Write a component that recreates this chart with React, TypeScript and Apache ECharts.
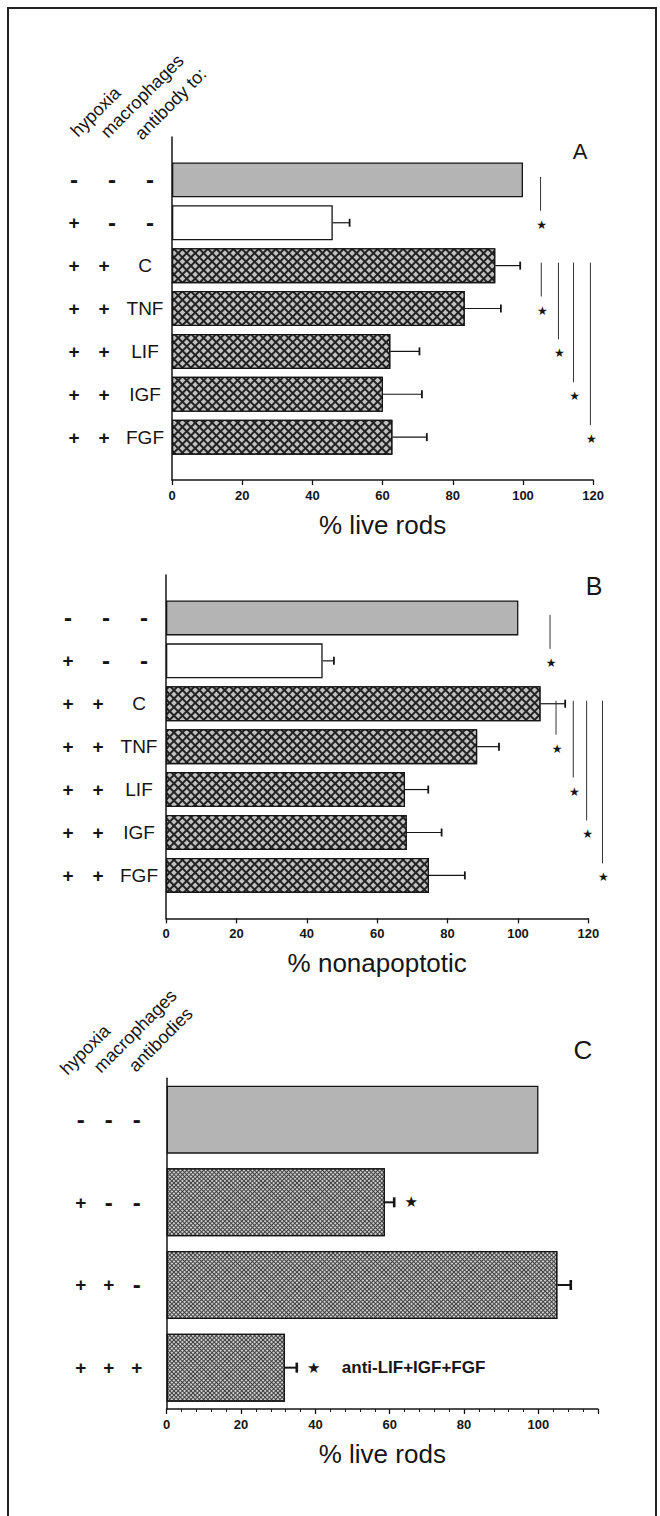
import React, { useEffect, useRef } from "react";
import * as echarts from "echarts";

const FONT = "'Liberation Sans', Arial, Helvetica, sans-serif";

// ---------------- data ----------------
// Panels A and B share the treatment rows
const hypoxiaAB = ["-", "+", "+", "+", "+", "+", "+"];
const macrophagesAB = ["-", "-", "+", "+", "+", "+", "+"];
const antibodyAB = ["-", "-", "C", "TNF", "LIF", "IGF", "FGF"];
const headerA = ["hypoxia", "macrophages", "antibody to:"];

// Panel A: % live rods (mean, mean + error)
const liveRodsA = [100, 45.8, 92.1, 83.4, 62.2, 60.1, 62.8];
const liveRodsErrA = [0, 50.6, 99.2, 93.7, 70.5, 71.2, 72.6];
// significance: [x value, from row, to row]
const sigA = [
  [105, 0, 1],
  [105.2, 2, 3],
  [110.1, 2, 4],
  [114.4, 2, 5],
  [119.2, 2, 6],
];

// Panel B: % nonapoptotic
const nonapoptoticB = [100.1, 44.5, 106.4, 88.4, 67.9, 68.4, 74.7];
const nonapoptoticErrB = [0, 47.7, 113.4, 94.6, 74.5, 78.3, 84.9];
const sigB = [
  [109.1, 0, 1],
  [110.8, 2, 3],
  [115.7, 2, 4],
  [119.5, 2, 5],
  [124, 2, 6],
];

// Panel C: % live rods
const hypoxiaC = ["-", "+", "+", "+"];
const macrophagesC = ["-", "-", "+", "+"];
const antibodiesC = ["-", "-", "-", "+"];
const headerC = ["hypoxia", "macrophages", "antibodies"];
const liveRodsC = [100, 58.7, 105.1, 31.8];
const liveRodsErrC = [0, 61.2, 108.7, 35];
const starC = [false, true, false, true];
const noteC = ["", "", "", "anti-LIF+IGF+FGF"];

const xMaxAB = 120;
const xMaxC = 116;
const xStep = 20;
const panelLetters = ["A", "B", "C"];

// ---------------- styles ----------------
const INK = "#151515";
const controlStyle = { color: "#b4b4b4", borderColor: INK, borderWidth: 1.3 };
const whiteStyle = { color: "#ffffff", borderColor: INK, borderWidth: 1.3 };
const hatchStyle = {
  color: "#222222",
  borderColor: INK,
  borderWidth: 1.3,
  decal: {
    symbol: "rect",
    symbolSize: 1,
    color: "#c0c0c0",
    dashArrayX: [3.6, 1.2],
    dashArrayY: [3.6, 1.2],
    rotation: Math.PI / 4,
  },
};
const dotStyle = {
  color: "#404040",
  borderColor: INK,
  borderWidth: 1.3,
  decal: {
    symbol: "rect",
    symbolSize: 1,
    color: "#cfcfcf",
    dashArrayX: [2, 1],
    dashArrayY: [2, 1],
    rotation: Math.PI / 4,
  },
};

const catsAB = ["padTop", ...antibodyAB.map((_, i) => "r" + i), "padBottom"];
const catsC = liveRodsC.map((_, i) => "c" + i);

function barItemsAB(values: number[]) {
  return [
    "-",
    ...values.map((v, i) => ({
      value: v,
      itemStyle: i === 0 ? controlStyle : i === 1 ? whiteStyle : hatchStyle,
    })),
    "-",
  ];
}

function barItemsC(values: number[]) {
  return values.map((v, i) => ({
    value: v,
    itemStyle: i === 0 ? controlStyle : dotStyle,
  }));
}

const labelBold = { fontSize: 19, fontWeight: "bold", fontFamily: FONT, color: INK, align: "center" };
const dashBold = { ...labelBold, fontSize: 24 };
const richAB = {
  d: { ...labelBold, width: 38 },
  dm: { ...dashBold, width: 38 },
  p1: { ...labelBold, width: 26 },
  p2: { ...labelBold, width: 34 },
  w: { fontSize: 19, fontFamily: FONT, color: INK, align: "center", width: 48 },
};
const richC = { c: { ...labelBold, width: 28 }, cm: { ...dashBold, width: 28 } };

const tok = (style: string, ch: string) => (ch === "-" ? `{${style}m|-}` : `{${style}|${ch}}`);

function labelAB(i: number) {
  const h = hypoxiaAB[i];
  const m = macrophagesAB[i];
  const a = antibodyAB[i];
  if (m === "-") return tok("d", h) + tok("d", m) + tok("d", a);
  return `{p1|${h}}{p2|${m}}{w|${a}}`;
}
function labelC(i: number) {
  return tok("c", hypoxiaC[i]) + tok("c", macrophagesC[i]) + tok("c", antibodiesC[i]);
}

const errRender = (capH: number, lw: number) => (params: any, api: any) => {
  const cat = api.value(2);
  const a = api.coord([api.value(0), cat]);
  const b = api.coord([api.value(1), cat]);
  return {
    type: "group",
    children: [
      { type: "line", shape: { x1: a[0], y1: a[1], x2: b[0], y2: b[1] }, style: { stroke: INK, lineWidth: lw } },
      {
        type: "line",
        shape: { x1: b[0], y1: b[1] - capH / 2, x2: b[0], y2: b[1] + capH / 2 },
        style: { stroke: INK, lineWidth: lw + 0.6 },
      },
    ],
  };
};

const starText = (x: number, y: number, size: number) => ({
  type: "text",
  x,
  y,
  style: {
    text: "★",
    fill: INK,
    font: `${size}px 'DejaVu Sans'`,
    align: "center",
    verticalAlign: "middle",
    textAlign: "center",
    textVerticalAlign: "middle",
  },
});

const sigRender = (params: any, api: any) => {
  const x = api.value(0);
  const p1 = api.coord([x, api.value(1)]);
  const p2 = api.coord([x, api.value(2)]);
  return {
    type: "group",
    children: [
      {
        type: "line",
        shape: { x1: p1[0], y1: p1[1] - 3, x2: p2[0], y2: p2[1] - 12 },
        style: { stroke: "#333", lineWidth: 1 },
      },
      starText(p2[0] + 1, p2[1] + 2, 12),
    ],
  };
};

const starNoteRender = (params: any, api: any) => {
  const cat = api.value(1);
  const p = api.coord([api.value(0), cat]);
  const note = noteC[cat];
  const children: any[] = [starText(p[0] + 17, p[1], 15)];
  if (note) {
    children.push({
      type: "text",
      x: p[0] + 45,
      y: p[1],
      style: {
        text: note,
        fill: INK,
        font: `bold 17px ${FONT}`,
        align: "left",
        verticalAlign: "middle",
        textAlign: "left",
        textVerticalAlign: "middle",
      },
    });
  }
  return { type: "group", children };
};

function valueAxis(gridIndex: number, max: number, name: string, minor: boolean) {
  return {
    type: "value",
    gridIndex,
    min: 0,
    max,
    interval: xStep,
    name,
    nameLocation: "middle",
    nameGap: 32,
    nameTextStyle: { fontSize: 26, fontFamily: FONT, color: INK },
    axisLine: { show: true, lineStyle: { color: INK, width: 1.5 } },
    axisTick: { show: true, length: 5, lineStyle: { color: INK, width: 1.3 } },
    minorTick: { show: minor, splitNumber: 5, length: 3, lineStyle: { color: INK, width: 1 } },
    splitLine: { show: false },
    axisLabel: {
      margin: 9,
      fontSize: 13,
      fontWeight: "bold",
      fontFamily: FONT,
      color: INK,
      formatter: (v: number) => (v % xStep === 0 ? String(v) : ""),
    },
  };
}

function headerTexts(names: string[], anchors: number[][]) {
  return names.map((t, i) => ({
    type: "text",
    x: anchors[i][0],
    y: anchors[i][1],
    rotation: Math.PI / 4,
    style: {
      text: t,
      font: `18px ${FONT}`,
      fill: INK,
      align: "left",
      verticalAlign: "bottom",
      textAlign: "left",
      textVerticalAlign: "bottom",
    },
  }));
}

function letter(t: string, x: number, y: number, size: number) {
  return {
    type: "text",
    x,
    y,
    style: {
      text: t,
      font: `${size}px ${FONT}`,
      fill: INK,
      align: "center",
      verticalAlign: "middle",
      textAlign: "center",
      textVerticalAlign: "middle",
    },
  };
}

export default function App() {
  const ref = useRef<HTMLDivElement>(null);

  useEffect(() => {
    if (!ref.current) return;
    const chart = echarts.init(ref.current, undefined, { renderer: "svg" });

    // rows of panels A/B sit at category index row + 1 (padding categories at both ends)
    const errDataA = liveRodsErrA
      .map((e, i) => (e > 0 ? [liveRodsA[i], e, i + 1] : null))
      .filter(Boolean);
    const errDataB = nonapoptoticErrB
      .map((e, i) => (e > 0 ? [nonapoptoticB[i], e, i + 1] : null))
      .filter(Boolean);
    const sigDataA = sigA.map(([x, f, t]) => [x, f + 1, t + 1]);
    const sigDataB = sigB.map(([x, f, t]) => [x, f + 1, t + 1]);
    const errDataC = liveRodsErrC
      .map((e, i) => (e > 0 ? [liveRodsC[i], e, i] : null))
      .filter(Boolean);
    const starDataC = starC.map((s, i) => (s ? [liveRodsErrC[i], i] : null)).filter(Boolean);

    const catAxisAB = (gridIndex: number) => ({
      type: "category",
      gridIndex,
      data: catsAB,
      inverse: true,
      boundaryGap: false,
      axisLine: { show: true, lineStyle: { color: INK, width: 1.5 } },
      axisTick: { show: false },
      splitLine: { show: false },
      axisLabel: {
        interval: 0,
        margin: 3,
        rich: richAB,
        formatter: (_v: string, idx: number) => (idx === 0 || idx === catsAB.length - 1 ? "" : labelAB(idx - 1)),
      },
    });

    const option: any = {
      animation: false,
      backgroundColor: "#ffffff",
      textStyle: { fontFamily: FONT },
      grid: [
        { left: 172, top: 137, width: 421.2, height: 343 },
        { left: 166, top: 575, width: 422.4, height: 343.3 },
        { left: 166.7, top: 1078.3, width: 431.2, height: 330.7 },
      ],
      xAxis: [
        valueAxis(0, xMaxAB, "% live rods", false),
        valueAxis(1, xMaxAB, "% nonapoptotic", false),
        valueAxis(2, xMaxC, "% live rods", true),
      ],
      yAxis: [
        catAxisAB(0),
        catAxisAB(1),
        {
          type: "category",
          gridIndex: 2,
          data: catsC,
          inverse: true,
          axisLine: { show: true, lineStyle: { color: INK, width: 1.5 } },
          axisTick: { show: false },
          splitLine: { show: false },
          axisLabel: {
            interval: 0,
            margin: 16,
            rich: richC,
            formatter: (_v: string, idx: number) => labelC(idx),
          },
        },
      ],
      series: [
        { type: "bar", xAxisIndex: 0, yAxisIndex: 0, barWidth: 35, data: barItemsAB(liveRodsA) },
        {
          type: "custom",
          xAxisIndex: 0,
          yAxisIndex: 0,
          clip: false,
          z: 3,
          encode: { x: [0, 1], y: 2 },
          renderItem: errRender(8, 1.2),
          data: errDataA,
        },
        {
          type: "custom",
          xAxisIndex: 0,
          yAxisIndex: 0,
          clip: false,
          z: 3,
          encode: { x: 0, y: [1, 2] },
          renderItem: sigRender,
          data: sigDataA,
        },
        { type: "bar", xAxisIndex: 1, yAxisIndex: 1, barWidth: 35, data: barItemsAB(nonapoptoticB) },
        {
          type: "custom",
          xAxisIndex: 1,
          yAxisIndex: 1,
          clip: false,
          z: 3,
          encode: { x: [0, 1], y: 2 },
          renderItem: errRender(8, 1.2),
          data: errDataB,
        },
        {
          type: "custom",
          xAxisIndex: 1,
          yAxisIndex: 1,
          clip: false,
          z: 3,
          encode: { x: 0, y: [1, 2] },
          renderItem: sigRender,
          data: sigDataB,
        },
        { type: "bar", xAxisIndex: 2, yAxisIndex: 2, barWidth: 68, data: barItemsC(liveRodsC) },
        {
          type: "custom",
          xAxisIndex: 2,
          yAxisIndex: 2,
          clip: false,
          z: 3,
          encode: { x: [0, 1], y: 2 },
          renderItem: errRender(10, 2),
          data: errDataC,
        },
        {
          type: "custom",
          xAxisIndex: 2,
          yAxisIndex: 2,
          clip: false,
          z: 3,
          encode: { x: 0, y: 1 },
          renderItem: starNoteRender,
          data: starDataC,
        },
      ],
      graphic: [
        {
          type: "rect",
          shape: { x: 8, y: 8, width: 648, height: 1540 },
          style: { fill: "none", stroke: "#222", lineWidth: 2 },
          silent: true,
        },
        ...headerTexts(headerA, [
          [80, 140],
          [110, 141],
          [144, 143],
        ]),
        ...headerTexts(headerC, [
          [69.5, 1078],
          [103, 1076],
          [138, 1075],
        ]),
        letter(panelLetters[0], 580, 151, 22),
        letter(panelLetters[1], 594, 586, 25),
        letter(panelLetters[2], 583, 1050, 26),
      ],
    };

    chart.setOption(option);
    return () => chart.dispose();
  }, []);

  return (
    <div
      ref={ref}
      style={{ position: "absolute", left: 0, top: 0, width: 660, height: 1516, background: "#fff" }}
    />
  );
}
